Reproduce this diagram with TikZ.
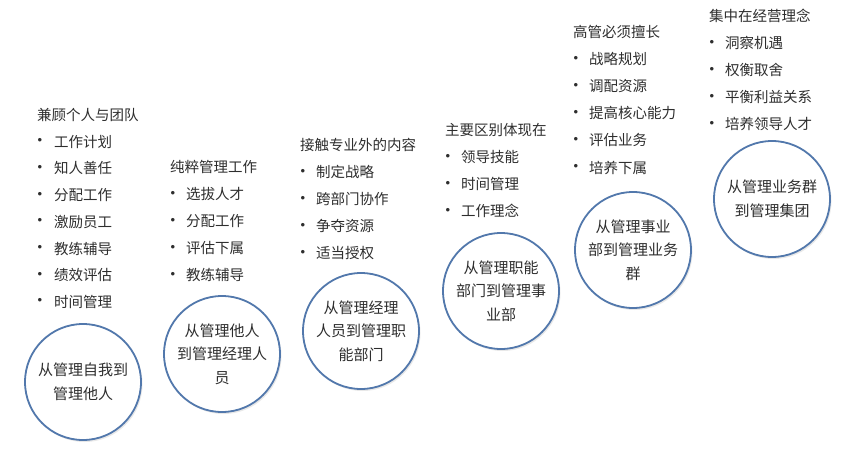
\documentclass[tikz,border=0pt]{standalone}
\usepackage{fontspec}
\setmainfont{Noto Sans CJK SC}
\newfontfamily\bulfont{Liberation Sans}
\usetikzlibrary{shadows}
\definecolor{txt}{HTML}{2E2E2E}
\definecolor{ring}{HTML}{5278AC}
\begin{document}
\begin{tikzpicture}[x=1pt,y=-1pt,
  every node/.style={text=txt,inner sep=0pt},
  ttl/.style={anchor=west,font=\fontsize{14.5}{17}\selectfont},
  itm/.style={anchor=west,font=\fontsize{14.5}{17}\selectfont},
  bul/.style={font=\bulfont\fontsize{13}{15}\selectfont},
  stage/.style={circle,draw=ring,line width=1.8pt,fill=white,minimum size=116pt,
    align=center,font=\fontsize{15}{23.5}\selectfont,
    drop shadow={opacity=0.18,shadow xshift=1.5pt,shadow yshift=-2pt}}]
\useasboundingbox (0,0) rectangle (865,468);
\fill[white] (0,0) rectangle (865,468);

% circles
\node[stage] (c1) at (83,382) {从管理自我到\\管理他人};
\node[stage] (c2) at (222,354) {从管理他人\\到管理经理人\\员};
\node[stage] (c3) at (361,331) {从管理经理\\人员到管理职\\能部门};
\node[stage] (c4) at (501,291) {从管理职能\\部门到管理事\\业部};
\node[stage] (c5) at (633,250) {从管理事业\\部到管理业务\\群};
\node[stage] (c6) at (772,199) {从管理业务群\\到管理集团};

% list 1
\node[ttl] (t1) at (37,115) {兼顾个人与团队};
\foreach \t [count=\i] in {工作计划,知人善任,分配工作,激励员工,教练辅导,绩效评估,时间管理}{
  \node[bul] (b1\i) at (40,115+26.7*\i) {•};
  \node[itm] (i1\i) at (54,115+26.7*\i) {\t};
}
% list 2
\node[ttl] (t2) at (170,167) {纯粹管理工作};
\foreach \t [count=\i] in {选拔人才,分配工作,评估下属,教练辅导}{
  \node[bul] (b2\i) at (173,167+27.1*\i) {•};
  \node[itm] (i2\i) at (186,167+27.1*\i) {\t};
}
% list 3
\node[ttl] (t3) at (300,145) {接触专业外的内容};
\foreach \t [count=\i] in {制定战略,跨部门协作,争夺资源,适当授权}{
  \node[bul] (b3\i) at (303,145+27.1*\i) {•};
  \node[itm] (i3\i) at (316,145+27.1*\i) {\t};
}
% list 4
\node[ttl] (t4) at (445,130) {主要区别体现在};
\foreach \t [count=\i] in {领导技能,时间管理,工作理念}{
  \node[bul] (b4\i) at (448,130+27.1*\i) {•};
  \node[itm] (i4\i) at (461,130+27.1*\i) {\t};
}
% list 5
\node[ttl] (t5) at (573,32) {高管必须擅长};
\foreach \t [count=\i] in {战略规划,调配资源,提高核心能力,评估业务,培养下属}{
  \node[bul] (b5\i) at (576,32+27.1*\i) {•};
  \node[itm] (i5\i) at (589,32+27.1*\i) {\t};
}
% list 6
\node[ttl] (t6) at (709,16) {集中在经营理念};
\foreach \t [count=\i] in {洞察机遇,权衡取舍,平衡利益关系,培养领导人才}{
  \node[bul] (b6\i) at (712,16+27.1*\i) {•};
  \node[itm] (i6\i) at (725,16+27.1*\i) {\t};
}
\end{tikzpicture}
\end{document}
